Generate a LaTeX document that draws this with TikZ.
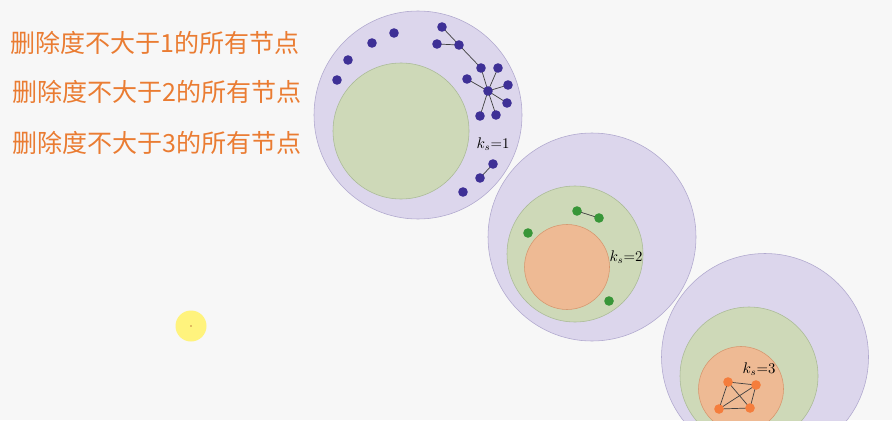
\documentclass[tikz,border=0pt]{standalone}
\usepackage{fontspec}
\newfontfamily\cjk{Noto Sans CJK SC}
\usepackage{tikz}

\definecolor{lav}{RGB}{220,214,236}
\definecolor{lavline}{RGB}{176,168,206}
\definecolor{sage}{RGB}{206,217,184}
\definecolor{sageline}{RGB}{170,186,150}
\definecolor{peach}{RGB}{238,186,148}
\definecolor{peachline}{RGB}{214,150,110}
\definecolor{indigo}{RGB}{62,48,150}
\definecolor{leaf}{RGB}{56,150,56}
\definecolor{tang}{RGB}{245,125,60}
\definecolor{titleorange}{RGB}{234,124,50}
\definecolor{pointer}{RGB}{255,243,125}

\begin{document}
\begin{tikzpicture}[
    x=0.025cm, y=-0.025cm,
    shell/.style={circle,draw,line width=0.4pt,inner sep=0pt},
    vtx/.style={circle,fill,minimum size=2.4mm,inner sep=0pt},
    link/.style={line width=0.5pt,draw=black!75},
    klabel/.style={font=\fontsize{10.5}{12}\selectfont,inner sep=0pt},
    title/.style={font=\cjk\fontsize{17.8}{20}\selectfont,text=titleorange,anchor=west,inner sep=0pt}
]
    \fill[white!97!black] (0,0) rectangle (892,420);
    \clip (0,0) rectangle (892,420);

    % shells
    \node[shell,fill=lav,draw=lavline,minimum size=208*0.025cm] (outerA) at (418,115) {};
    \node[shell,fill=sage,draw=sageline,minimum size=136*0.025cm] (midA) at (401,131) {};

    \node[shell,fill=lav,draw=lavline,minimum size=208*0.025cm] (outerB) at (592,237) {};
    \node[shell,fill=sage,draw=sageline,minimum size=136*0.025cm] (midB) at (575,254) {};
    \node[shell,fill=peach,draw=peachline,minimum size=85*0.025cm] (coreB) at (567,267) {};

    \node[shell,fill=lav,draw=lavline,minimum size=207*0.025cm] (outerC) at (765,357) {};
    \node[shell,fill=sage,draw=sageline,minimum size=138*0.025cm] (midC) at (749,376) {};
    \node[shell,fill=peach,draw=peachline,minimum size=85*0.025cm] (coreC) at (741,389) {};

    % k_s = 1
    \coordinate (a1) at (442,27);
    \coordinate (a2) at (437,44);
    \coordinate (a3) at (459,45);
    \coordinate (a4) at (394,33);
    \coordinate (a5) at (372,43);
    \coordinate (a6) at (348,60);
    \coordinate (a7) at (337,80);
    \coordinate (a8) at (481,68);
    \coordinate (a9) at (498,68);
    \coordinate (a10) at (467,79);
    \coordinate (a11) at (508,85);
    \coordinate (a12) at (488,91);
    \coordinate (a13) at (507,103);
    \coordinate (a14) at (480,116);
    \coordinate (a15) at (496,115);
    \coordinate (a16) at (493,164);
    \coordinate (a17) at (480,178);
    \coordinate (a18) at (463,192);

    \draw[link]
        (a1)--(a3) (a2)--(a3) (a3)--(a8) (a8)--(a12)
        (a12)--(a9) (a12)--(a10) (a12)--(a11)
        (a12)--(a13) (a12)--(a14) (a12)--(a15)
        (a16)--(a17);

    \foreach \v in {a1,a2,a3,a4,a5,a6,a7,a8,a9,a10,a11,a12,a13,a14,a15,a16,a17,a18}
        \node[vtx,indigo] (n\v) at (\v) {};

    % k_s = 2
    \coordinate (b1) at (577,211);
    \coordinate (b2) at (599,218);
    \coordinate (b3) at (528,233);
    \coordinate (b4) at (609,301);

    \draw[link] (b1)--(b2);

    \foreach \v in {b1,b2,b3,b4}
        \node[vtx,leaf] (n\v) at (\v) {};

    % k_s = 3
    \coordinate (c1) at (728,382);
    \coordinate (c2) at (756,385);
    \coordinate (c3) at (719,409);
    \coordinate (c4) at (750,408);

    \draw[link]
        (c1)--(c2) (c1)--(c3) (c1)--(c4)
        (c2)--(c3) (c2)--(c4) (c3)--(c4);

    \foreach \v in {c1,c2,c3,c4}
        \node[vtx,tang] (n\v) at (\v) {};

    \node[klabel] (ksA) at (493,144) {$k_s$=1};
    \node[klabel] (ksB) at (626,257) {$k_s$=2};
    \node[klabel] (ksC) at (759,369) {$k_s$=3};

    % steps
    \node[title] (stepA) at (10,43) {删除度不大于1的所有节点};
    \node[title] (stepB) at (12,92) {删除度不大于2的所有节点};
    \node[title] (stepC) at (12,143) {删除度不大于3的所有节点};

    % pointer
    \node[circle,fill=pointer,minimum size=31*0.025cm,inner sep=0pt] (cursor) at (191,326) {};
    \fill[red!50!black] (cursor.center) circle (0.6);
\end{tikzpicture}
\end{document}
